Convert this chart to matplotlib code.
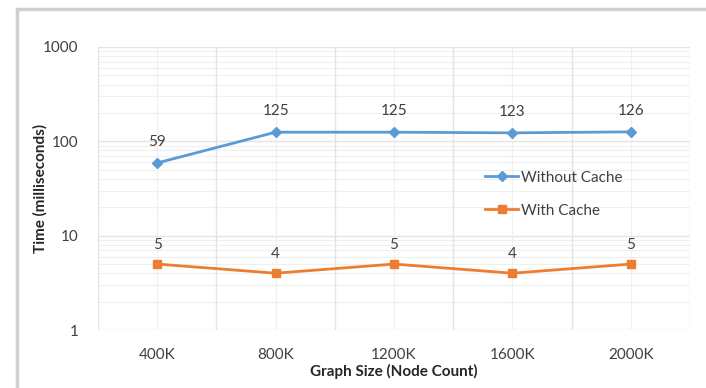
import numpy as np
import matplotlib.pyplot as plt
from matplotlib.patches import Rectangle

plt.rcParams['font.family'] = ['Lato', 'DejaVu Sans']

sizes = ["400K", "800K", "1200K", "1600K", "2000K"]
without_cache = [59, 125, 125, 123, 126]
with_cache = [5, 4, 5, 4, 5]

blue = "#5B9BD5"
orange = "#ED7D31"
grid_c = "#E4E4E4"

fig = plt.figure(figsize=(7.06, 3.88), dpi=100)
# outer chart frame (light gray)
fig.patches.append(Rectangle((17/706, -0.1), 1.0, (388-9)/388 + 0.1, transform=fig.transFigure,
                             fill=False, edgecolor="#D0D0D0", linewidth=2.5))
ax = fig.add_axes([98/706, 1 - 330/388, (690-98)/706, (330-47)/388])

x = np.arange(len(sizes))
ax.set_yscale("log")
ax.set_ylim(1, 1000)
ax.set_xlim(-0.5, len(sizes) - 0.5)

# gridlines: decades + minor, category boundaries + centres
for dec in [1, 10, 100]:
    for m in range(2, 10):
        ax.axhline(dec * m, color="#EFEFEF", lw=0.8, zorder=0)
for v in [1, 10, 100, 1000]:
    ax.axhline(v, color=grid_c, lw=1.0, zorder=0)
for b in np.arange(-0.5, len(sizes), 1.0):
    ax.axvline(b, color=grid_c, lw=1.0, zorder=0)
for c in x:
    ax.axvline(c, color="#EFEFEF", lw=0.8, zorder=0)

ax.plot(x, without_cache, color=blue, lw=2, marker="D", ms=5, label="Without Cache", zorder=3)
ax.plot(x, with_cache, color=orange, lw=2, marker="s", ms=6, label="With Cache", zorder=3)

for xi, v in zip(x, without_cache):
    ax.annotate(str(v), (xi, v), xytext=(0, 10), textcoords="offset points",
                ha="center", va="bottom", fontsize=11, color="#404040")
for xi, v in zip(x, with_cache):
    ax.annotate(str(v), (xi, v), xytext=(0, 9), textcoords="offset points",
                ha="center", va="bottom", fontsize=11, color="#404040")

ax.set_yticks([1, 10, 100, 1000])
ax.set_yticklabels(["1", "10", "100", "1000"])
ax.minorticks_off()
ax.set_xticks(x)
ax.set_xticklabels(sizes)
ax.tick_params(length=0, labelsize=11, labelcolor="#404040")
ax.tick_params(axis="x", pad=13)
ax.tick_params(axis="y", pad=14)
for s in ax.spines.values():
    s.set_visible(False)

ax.set_xlabel("Graph Size (Node Count)", fontsize=11, fontweight="bold", color="#262626", labelpad=1)
ax.set_ylabel("Time (milliseconds)", fontsize=11, fontweight="bold", color="#262626")
ax.yaxis.set_label_coords(-0.086, 0.5)

ax.legend(loc="center left", bbox_to_anchor=(0.63, 0.48), frameon=False, fontsize=11,
          handlelength=2.2, handletextpad=0.15, labelspacing=1.25, labelcolor="#404040")

fig.savefig("out.png", dpi=100)
